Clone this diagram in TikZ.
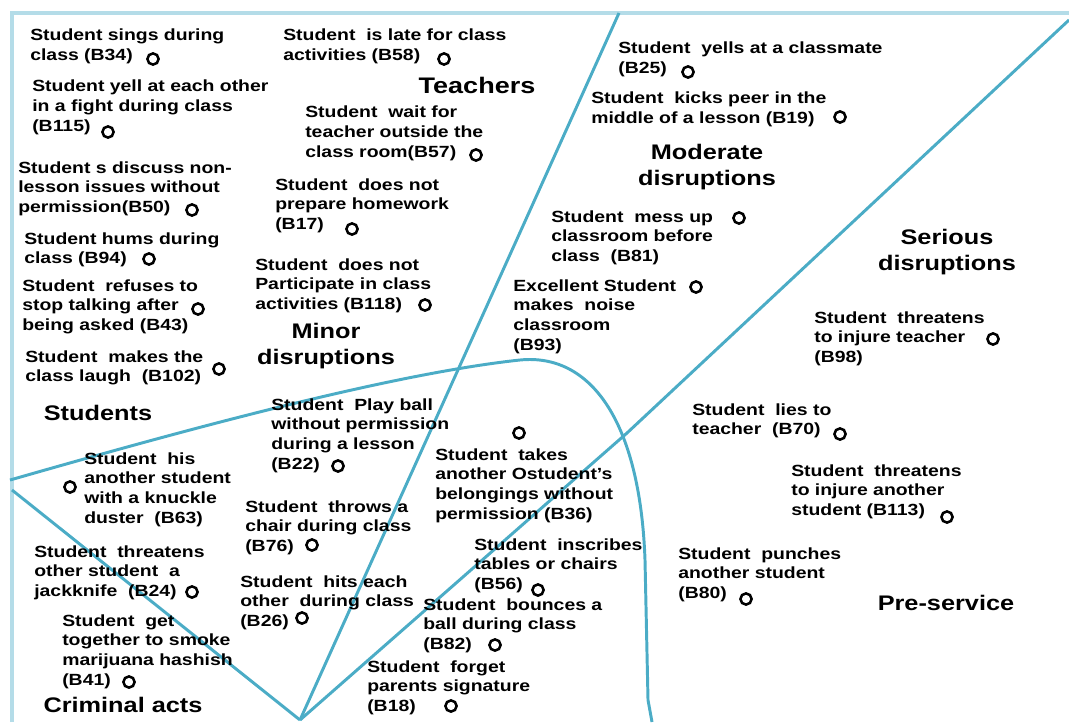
\documentclass[tikz,border=0pt]{standalone}
\usepackage{fontspec}
\setmainfont{Liberation Sans}[FakeStretch=1.2]
\usetikzlibrary{positioning}
\definecolor{aqua}{HTML}{4BACC6}
\definecolor{frameblue}{HTML}{B4DCE8}
\newcommand{\itemfont}{\fontsize{11.5}{14}\selectfont\bfseries}
\newcommand{\headfont}{\fontsize{15}{18.4}\selectfont\bfseries}

\begin{document}
\begin{tikzpicture}[x=0.025cm,y=-0.025cm,
item/.style={anchor=north west,inner sep=0pt,align=left,font=\itemfont},
head/.style={anchor=north,inner sep=0pt,align=center,font=\headfont},
ring/.style={circle,draw,line width=1.8pt,minimum size=0.28cm,inner sep=0pt},
border/.style={draw=frameblue,line width=2.8pt},
split/.style={draw=aqua,line width=2.1pt}]
\useasboundingbox (0,0) rectangle (1069,722);
\coordinate (apex) at (300,720);
\coordinate (T1) at (619,13);
\coordinate (T2) at (1069,20);
\coordinate (K2) at (627,433);
\coordinate (L3) at (12,490);
\coordinate (C0) at (10,480);
\coordinate (C1) at (520,360);
\coordinate (C2) at (645,560);
\coordinate (C3) at (652,722);
\draw[border] (12,722) -- (12,13) -- (1069,13);
\draw[split] (T1) -- (apex);
\draw[split] (T2) -- (K2) -- (apex);
\draw[split] (L3) -- (apex);
\draw[split] (C0) .. controls (150,440) and (380,375) .. (C1)
  .. controls (590,353) and (640,420) .. (C2) -- (648,700) -- (C3);

\node[head] (Hteach) at (477,77) {\fontsize{16}{18.4}\selectfont Teachers};
\node[head] (Hmod) at (707,144) {Moderate\\disruptions};
\node[head] (Hser) at (947,229) {Serious\\disruptions};
\node[head] (Hmin) at (326,323) {Minor\\disruptions};
\node[head] (Hstu) at (98,405) {Students};
\node[head] (Hcrim) at (123,697) {Criminal acts};
\node[head] (Hpre) at (946,595) {Pre-service};

\node[item] (B34) at (30,29) {Student sings during\\class (B34)};
\node[item] (B115) at (32,80) {Student yell at each other\\in a fight during class\\(B115)};
\node[item] (B50) at (18,161) {Student s discuss non-\\lesson issues without\\permission(B50)};
\node[item] (B94) at (24,232) {Student hums during\\class (B94)};
\node[item] (B43) at (22,279) {Student\ \ refuses to\\stop talking after\\being asked (B43)};
\node[item] (B102) at (25,350) {Student\ \ makes the\\class laugh\ \ (B102)};
\node[item] (B58) at (283,29) {Student\ \ is late for class\\activities (B58)};
\node[item] (B57) at (305,106) {Student\ \ wait for\\teacher outside the\\class room(B57)};
\node[item] (B17) at (275,178) {Student\ \ does not\\prepare homework\\(B17)};
\node[item] (B118) at (255,258) {Student\ \ does not\\Participate in class\\activities (B118)};
\node[item] (B25) at (618,42) {Student\ \ yells at a classmate\\(B25)};
\node[item] (B19) at (591,92) {Student\ \ kicks peer in the\\middle of a lesson (B19)};
\node[item] (B81) at (551,210) {Student\ \ mess up\\classroom before\\class\ \ (B81)};
\node[item] (B93) at (513,279) {Excellent Student\\makes\ \ noise\\classroom\\(B93)};
\node[item] (B98) at (814,311) {Student\ \ threatens\\to injure teacher\\(B98)};
\node[item] (B70) at (692,403) {Student\ \ lies to\\teacher\ \ (B70)};
\node[item] (B113) at (791,464) {Student\ \ threatens\\to injure another\\student (B113)};
\node[item] (B80) at (678,547) {Student\ \ punches\\another student\\(B80)};
\node[item] (B22) at (271,398) {Student\ \ Play ball\\without permission\\during a lesson\\(B22)};
\node[item] (B36) at (435,448) {Student\ \ takes\\another Ostudent's\\belongings without\\permission (B36)};
\node[item] (B63) at (84,452) {Student\ \ his\\another student\\with a knuckle\\duster\ \ (B63)};
\node[item] (B76) at (245,500) {Student\ \ throws a\\chair during class\\(B76)};
\node[item] (B56) at (474,538) {Student\ \ inscribes\\tables or chairs\\(B56)};
\node[item] (B24) at (34,545) {Student\ \ threatens\\other student\ \ a\\jackknife\ \ (B24)};
\node[item] (B26) at (240,575) {Student\ \ hits each\\other\ \ during class\\(B26)};
\node[item] (B82) at (423,598) {Student\ \ bounces a\\ball during class\\(B82)};
\node[item] (B41) at (62,614) {Student\ \ get\\together to smoke\\marijuana hashish\\(B41)};
\node[item] (B18) at (367,660) {Student\ \ forget\\parents signature\\(B18)};

\node[ring] (R34) at (153,59) {};
\node[ring] (R115) at (108,132) {};
\node[ring] (R50) at (192,210) {};
\node[ring] (R94) at (149,259) {};
\node[ring] (R43) at (198,309) {};
\node[ring] (R102) at (219,369) {};
\node[ring] (R58) at (444,59) {};
\node[ring] (R57) at (476,155) {};
\node[ring] (R17) at (352,229) {};
\node[ring] (R118) at (425,305) {};
\node[ring] (R25) at (688,72) {};
\node[ring] (R19) at (840,117) {};
\node[ring] (R81) at (739,218) {};
\node[ring] (R93) at (696,287) {};
\node[ring] (R98) at (993,339) {};
\node[ring] (R70) at (840,434) {};
\node[ring] (R113) at (947,517) {};
\node[ring] (R80) at (746,599) {};
\node[ring] (R22) at (338,466) {};
\node[ring] (R36) at (519,433) {};
\node[ring] (R63) at (70,487) {};
\node[ring] (R76) at (312,545) {};
\node[ring] (R56) at (538,590) {};
\node[ring] (R24) at (192,592) {};
\node[ring] (R26) at (302,618) {};
\node[ring] (R82) at (495,645) {};
\node[ring] (R41) at (129,682) {};
\node[ring] (R18) at (451,706) {};
\end{tikzpicture}
\end{document}
